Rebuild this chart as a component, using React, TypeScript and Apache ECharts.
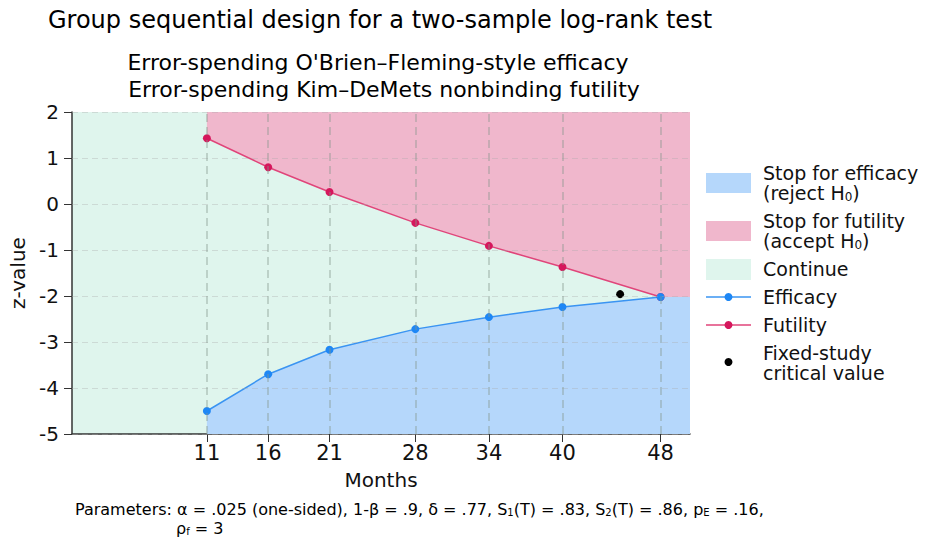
import React, { useEffect, useRef } from "react";
import * as echarts from "echarts";

const months = [11, 16, 21, 28, 34, 40, 48];
const efficacyZ = [-4.5, -3.7, -3.17, -2.72, -2.46, -2.24, -2.02];
const futilityZ = [1.43, 0.8, 0.26, -0.41, -0.91, -1.37, -2.02];
const fixedStudyMonth = 44.7;
const fixedStudyZ = -1.96;
const yTicks = [-5, -4, -3, -2, -1, 0, 1, 2];
const xMin = 0;
const xMax = 50.4;

const FONT = "DejaVu Sans";
const C_EFF_FILL = "#b5d7fb";
const C_FUT_FILL = "#f0b7cc";
const C_CONT = "#dff5ed";
const C_EFF_LINE = "#3a94f2";
const C_EFF_DOT = "#1e87f5";
const C_FUT_LINE = "#e0457a";
const C_FUT_DOT = "#d5175c";

export default function App() {
  const ref = useRef<HTMLDivElement>(null);
  useEffect(() => {
    if (!ref.current) return;
    document.body.style.margin = "0";
    document.documentElement.style.overflow = "hidden";
    document.body.style.overflow = "hidden";
    const chart = echarts.init(ref.current, undefined, { renderer: "svg" });
    const effPts = months.map((m, i) => [m, efficacyZ[i]]);
    const futPts = months.map((m, i) => [m, futilityZ[i]]);
    const effArea = [...effPts, [xMax, efficacyZ[efficacyZ.length - 1]]];
    const futArea = [...futPts, [xMax, futilityZ[futilityZ.length - 1]]];

    const legendX = 706;
    const textX = 763;
    const legendText = (text: string, y: number) => ({
      type: "text",
      style: {
        text,
        x: textX,
        y,
        fill: "#111",
        fontSize: 19,
        lineHeight: 20,
        fontFamily: FONT,
        verticalAlign: "middle",
        rich: {
          sub: { fontSize: 12, fontFamily: FONT, verticalAlign: "bottom", lineHeight: 14, fill: "#111" },
        },
      },
    });
    const subRich = {
      sub: { fontSize: 10, fontFamily: FONT, verticalAlign: "bottom", lineHeight: 13, fill: "#000" },
    };

    const option: any = {
      animation: false,
      grid: {
        left: 72,
        right: 238,
        top: 112,
        bottom: 103,
        show: true,
        backgroundColor: C_CONT,
        borderWidth: 0,
        outerBoundsMode: "none",
        containLabel: false,
      },
      xAxis: {
        type: "value",
        min: xMin,
        max: xMax,
        name: "Months",
        nameLocation: "middle",
        nameGap: 36,
        nameTextStyle: { fontSize: 20, fontFamily: FONT, color: "#111" },
        axisLine: { show: true, onZero: false, lineStyle: { color: "#333", width: 1.5 } },
        axisTick: { show: true, customValues: months, length: 8, lineStyle: { color: "#333" } },
        axisLabel: { customValues: months, fontSize: 21, fontFamily: FONT, color: "#111", margin: 8 },
        splitLine: { show: false },
      },
      yAxis: {
        type: "value",
        min: -5,
        max: 2,
        interval: 1,
        name: "z-value",
        nameLocation: "middle",
        nameGap: 42,
        nameTextStyle: { fontSize: 20, fontFamily: FONT, color: "#111" },
        axisLine: { show: true, onZero: false, lineStyle: { color: "#333", width: 1.5 } },
        axisTick: { show: true, length: 8, lineStyle: { color: "#333" } },
        axisLabel: { fontSize: 20, fontFamily: FONT, color: "#111", margin: 13 },
        splitLine: { show: false },
      },
      series: [
        {
          type: "line",
          data: futArea,
          symbol: "none",
          lineStyle: { width: 0 },
          areaStyle: { color: C_FUT_FILL, opacity: 1, origin: "end" },
          z: 1,
          silent: true,
        },
        {
          type: "line",
          data: effArea,
          symbol: "none",
          lineStyle: { width: 0 },
          areaStyle: { color: C_EFF_FILL, opacity: 1, origin: "start" },
          z: 1,
          silent: true,
        },
        {
          type: "line",
          data: [],
          z: 2,
          silent: true,
          markLine: {
            silent: true,
            symbol: "none",
            label: { show: false },
            data: [
              ...yTicks.map((v) => ({
                yAxis: v,
                lineStyle: { color: "rgba(170,170,170,0.35)", type: [6, 4], width: 1.2 },
              })),
              ...months.map((m) => ({
                xAxis: m,
                lineStyle: { color: "rgba(130,150,140,0.5)", type: [8, 5], width: 1.5 },
              })),
            ],
          },
        },
        {
          type: "line",
          name: "Futility",
          data: futPts,
          symbol: "circle",
          symbolSize: 8,
          itemStyle: { color: C_FUT_DOT, opacity: 1 },
          lineStyle: { color: C_FUT_LINE, width: 1.5 },
          z: 3,
        },
        {
          type: "line",
          name: "Efficacy",
          data: effPts,
          symbol: "circle",
          symbolSize: 8,
          itemStyle: { color: C_EFF_DOT, opacity: 1 },
          lineStyle: { color: C_EFF_LINE, width: 1.5 },
          z: 3,
        },
        {
          type: "scatter",
          name: "Fixed-study critical value",
          data: [[fixedStudyMonth, fixedStudyZ]],
          symbolSize: 8,
          itemStyle: { color: "#000", opacity: 1 },
          z: 4,
        },
      ],
      graphic: [
        {
          type: "text",
          style: {
            text: "Group sequential design for a two-sample log-rank test",
            x: 48,
            y: 20,
            fill: "#000",
            fontSize: 24,
            fontFamily: FONT,
            verticalAlign: "middle",
          },
        },
        {
          type: "text",
          style: {
            text: "Error-spending O'Brien–Fleming-style efficacy",
            x: 378,
            y: 62,
            fill: "#000",
            fontSize: 22,
            fontFamily: FONT,
            align: "center",
            verticalAlign: "middle",
          },
        },
        {
          type: "text",
          style: {
            text: "Error-spending Kim–DeMets nonbinding futility",
            x: 384,
            y: 89,
            fill: "#000",
            fontSize: 22,
            fontFamily: FONT,
            align: "center",
            verticalAlign: "middle",
          },
        },
        {
          type: "text",
          style: {
            text: "Parameters: α = .025 (one-sided), 1-β = .9, δ = .77, S{sub|1}(T) = .83, S{sub|2}(T) = .86, p{sub|E} = .16,",
            x: 75,
            y: 509,
            fill: "#000",
            fontSize: 16,
            lineHeight: 17,
            fontFamily: FONT,
            verticalAlign: "middle",
            rich: subRich,
          },
        },
        {
          type: "text",
          style: {
            text: "ρ{sub|f} = 3",
            x: 176,
            y: 528,
            fill: "#000",
            fontSize: 16,
            lineHeight: 16,
            fontFamily: FONT,
            verticalAlign: "middle",
            rich: subRich,
          },
        },
        { type: "rect", shape: { x: legendX, y: 173, width: 45, height: 20 }, style: { fill: C_EFF_FILL } },
        { type: "rect", shape: { x: legendX, y: 221, width: 45, height: 20 }, style: { fill: C_FUT_FILL } },
        { type: "rect", shape: { x: legendX, y: 259, width: 45, height: 21 }, style: { fill: C_CONT } },
        { type: "line", shape: { x1: legendX, y1: 297, x2: legendX + 45, y2: 297 }, style: { stroke: C_EFF_LINE, lineWidth: 1.5 } },
        { type: "circle", shape: { cx: legendX + 22.5, cy: 297, r: 4 }, style: { fill: C_EFF_DOT } },
        { type: "line", shape: { x1: legendX, y1: 325, x2: legendX + 45, y2: 325 }, style: { stroke: C_FUT_LINE, lineWidth: 1.5 } },
        { type: "circle", shape: { cx: legendX + 22.5, cy: 325, r: 4 }, style: { fill: C_FUT_DOT } },
        { type: "circle", shape: { cx: legendX + 22.5, cy: 362, r: 4 }, style: { fill: "#000" } },
        legendText("Stop for efficacy\n(reject H{sub|0})", 183),
        legendText("Stop for futility\n(accept H{sub|0})", 231),
        legendText("Continue", 269),
        legendText("Efficacy", 297),
        legendText("Futility", 325),
        legendText("Fixed-study\ncritical value", 363),
      ],
    };
    chart.setOption(option);
    return () => chart.dispose();
  }, []);
  return <div ref={ref} style={{ width: 928, height: 537 }} />;
}
